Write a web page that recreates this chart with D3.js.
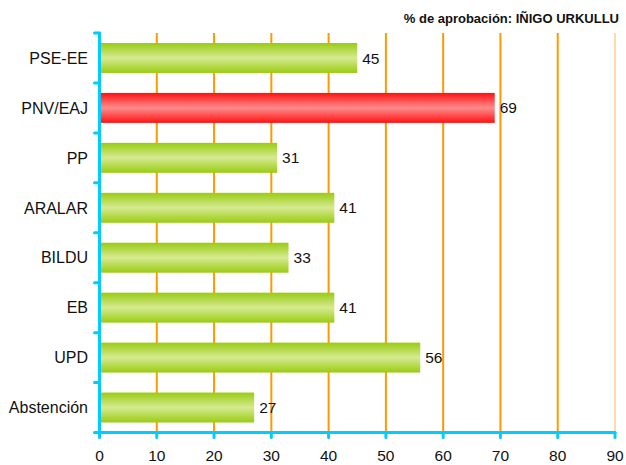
<!DOCTYPE html>
<html><head><meta charset="utf-8">
<script src="https://cdn.jsdelivr.net/npm/d3@7"></script>
<style>body{margin:0;background:#fff}svg{display:block}text{font-family:"Liberation Sans",Arial,sans-serif}</style>
</head><body><svg id="c" width="626" height="465"></svg>
<script>
const categories = ["PSE-EE","PNV/EAJ","PP","ARALAR","BILDU","EB","UPD","Abstención"];
const values = [45,69,31,41,33,41,56,27];
const highlight = ["PNV/EAJ"];
const xTicks = [0,10,20,30,40,50,60,70,80,90];
const title = "% de aprobación: IÑIGO URKULLU";

const svg = d3.select("#c");
const mLeft = 99.5, mRight = 615, mTop = 33, mBottom = 432.5;
const x = d3.scaleLinear().domain([0,90]).range([mLeft,mRight]);
const y = d3.scaleBand().domain(categories).range([mTop,mBottom]).paddingInner(0.4).paddingOuter(0.2);

const defs = svg.append("defs");
function grad(id, edge, mid){
  const g = defs.append("linearGradient").attr("id",id).attr("x1",0).attr("y1",0).attr("x2",0).attr("y2",1);
  g.append("stop").attr("offset","0%").attr("stop-color",edge);
  g.append("stop").attr("offset","50%").attr("stop-color",mid);
  g.append("stop").attr("offset","100%").attr("stop-color",edge);
}
grad("gGreen","#99CC11","#D6EA92");
grad("gRed","#FF1111","#FF8C8C");

// gridlines
svg.append("g").selectAll("line").data(xTicks.filter(d=>d>0)).join("line")
  .attr("x1",d=>x(d)).attr("x2",d=>x(d)).attr("y1",mTop).attr("y2",mBottom)
  .attr("stroke",d=>d===90?"#FFDDAA":"#FF9900").attr("stroke-width",2);

// bars
svg.append("g").selectAll("rect").data(categories).join("rect")
  .attr("x",x(0)).attr("y",d=>y(d)).attr("height",y.bandwidth())
  .attr("width",(d,i)=>x(values[i])-x(0))
  .attr("fill",d=>highlight.includes(d)?"url(#gRed)":"url(#gGreen)");

// value labels
svg.append("g").selectAll("text").data(categories).join("text")
  .attr("x",(d,i)=>x(values[i])+5).attr("y",d=>y(d)+y.bandwidth()/2)
  .attr("dy","0.36em").attr("font-size",15.5).attr("fill","#111")
  .text((d,i)=>values[i]);

const axisColor = "#00CCFF";
// y axis
const yBounds = d3.range(categories.length+1).map(i=>mTop + i*(mBottom-mTop)/categories.length);
svg.append("g").selectAll("line").data(yBounds).join("line")
  .attr("x1",mLeft-5).attr("x2",mLeft).attr("y1",d=>d).attr("y2",d=>d)
  .attr("stroke",axisColor).attr("stroke-width",3).attr("stroke-linecap","round");
svg.append("line").attr("x1",mLeft).attr("x2",mLeft).attr("y1",mTop).attr("y2",mBottom)
  .attr("stroke",axisColor).attr("stroke-width",3).attr("stroke-linecap","round");
// x axis
svg.append("line").attr("x1",mLeft).attr("x2",mRight).attr("y1",mBottom).attr("y2",mBottom)
  .attr("stroke",axisColor).attr("stroke-width",3).attr("stroke-linecap","round");
svg.append("g").selectAll("line").data(xTicks).join("line")
  .attr("x1",d=>x(d)).attr("x2",d=>x(d)).attr("y1",mBottom).attr("y2",mBottom+5)
  .attr("stroke",axisColor).attr("stroke-width",3).attr("stroke-linecap","round");
svg.append("g").selectAll("text").data(xTicks).join("text")
  .attr("x",d=>x(d)).attr("y",461).attr("text-anchor","middle")
  .attr("font-size",15.5).attr("fill","#111").text(d=>d);

// category labels
svg.append("g").selectAll("text").data(categories).join("text")
  .attr("x",88).attr("y",d=>y(d)+y.bandwidth()/2).attr("dy","0.36em")
  .attr("text-anchor","end").attr("font-size",16).attr("fill","#111").text(d=>d);

// title
svg.append("text").attr("x",619).attr("y",23).attr("text-anchor","end")
  .attr("font-size",13).attr("font-weight","bold").attr("fill","#111").text(title);
</script></body></html>
